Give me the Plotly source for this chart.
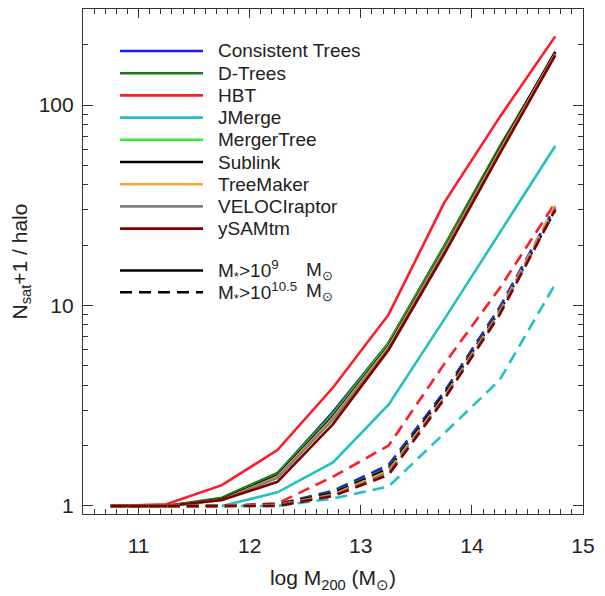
import plotly.graph_objects as go

# ---------------- data ----------------
log_m200 = [10.75, 11.25, 11.75, 12.25, 12.75, 13.25, 13.75, 14.25, 14.75]

tree_names = ["Consistent Trees", "D-Trees", "HBT", "JMerge", "MergerTree",
              "Sublink", "TreeMaker", "VELOCIraptor", "ySAMtm"]
tree_colors = ["#1a1aff", "#1a7a1a", "#ff1a2a", "#22c0c0", "#33ee33",
               "#000000", "#ffa030", "#808080", "#800000"]

# N_sat+1 per halo, M* > 1e9 Msun (solid)
ct_9 = [1.0, 1.0, 1.09, 1.45, 2.95, 6.5, 19.5, 61, 182]
dt_9 = [1.0, 1.0, 1.10, 1.46, 2.90, 6.5, 19.8, 62, 180]
hbt_9 = [1.0, 1.02, 1.27, 1.90, 3.90, 9.0, 32.5, 87, 220]
jm_9 = [None, None, 1.0, 1.17, 1.65, 3.2, 8.5, 23, 62.5]
mt_9 = [1.0, 1.0, 1.08, 1.43, 2.85, 6.4, 19.2, 60, 181]
sl_9 = [1.0, 1.0, 1.08, 1.42, 2.80, 6.3, 19.0, 60, 184]
tm_9 = [1.0, 1.0, 1.07, 1.40, 2.75, 6.2, 18.8, 59, 180]
vr_9 = [1.0, 1.0, 1.07, 1.38, 2.70, 6.1, 18.5, 58, 178]
ys_9 = [1.0, 1.0, 1.07, 1.32, 2.56, 6.0, 18.0, 57, 177]

# N_sat+1 per halo, M* > 10^10.5 Msun (dashed)
ct_105 = [1.0, 1.0, 1.0, 1.02, 1.19, 1.60, 3.7, 9.8, 31]
dt_105 = [1.0, 1.0, 1.0, 1.02, 1.17, 1.55, 3.6, 9.5, 30]
hbt_105 = [1.0, 1.0, 1.0, 1.03, 1.40, 2.00, 5.1, 12.2, 32.5]
jm_105 = [None, None, 1.0, 1.0, 1.09, 1.25, 2.3, 4.25, 12.8]
mt_105 = [1.0, 1.0, 1.0, 1.02, 1.16, 1.53, 3.6, 9.4, 30]
sl_105 = [1.0, 1.0, 1.0, 1.02, 1.16, 1.53, 3.6, 9.4, 30]
tm_105 = [1.0, 1.0, 1.0, 1.01, 1.14, 1.50, 3.5, 9.3, 31.5]
vr_105 = [1.0, 1.0, 1.0, 1.01, 1.13, 1.47, 3.45, 9.2, 30.5]
ys_105 = [1.0, 1.0, 1.0, 1.00, 1.12, 1.43, 3.4, 9.0, 30]

solid_series = [ct_9, dt_9, hbt_9, jm_9, mt_9, sl_9, tm_9, vr_9, ys_9]
dashed_series = [ct_105, dt_105, hbt_105, jm_105, mt_105, sl_105, tm_105, vr_105, ys_105]

x_ticks = [11, 12, 13, 14, 15]
y_ticks = [1, 10, 100]
y_tick_labels = ["1", "10", "100"]

# ---------------- layout geometry ----------------
# page has an 8px body margin, so the figure is offset by (8, 8)
OFF = 8
W, H = 597, 588
L, R, T, B = 75, 22, 1, 82
PW, PH = W - L - R, H - T - B

def px2paper(px, py):
    """page pixel -> paper coords"""
    fx, fy = px - OFF, py - OFF
    return (fx - L) / PW, (H - B - fy) / PH

FONT = "Liberation Sans, Arial, Helvetica, sans-serif"
AXC = "#333333"
TXT = "#222222"

fig = go.Figure()

for name, col, ys in zip(tree_names, tree_colors, solid_series):
    fig.add_trace(go.Scatter(x=log_m200, y=ys, mode="lines", name=name,
                             line=dict(color=col, width=2.6), showlegend=False))
for name, col, ys in zip(tree_names, tree_colors, dashed_series):
    fig.add_trace(go.Scatter(x=log_m200, y=ys, mode="lines", name=name,
                             line=dict(color=col, width=2.6, dash="12px,7px"),
                             showlegend=False))

# ---------------- manual legend ----------------
shapes = []
annotations = []
row0, dy = 51, 22.2
for i, (name, col) in enumerate(zip(tree_names, tree_colors)):
    py = row0 + i * dy
    x0, y0 = px2paper(120, py)
    x1, _ = px2paper(203, py)
    shapes.append(dict(type="line", xref="paper", yref="paper", x0=x0, x1=x1,
                       y0=y0, y1=y0, line=dict(color=col, width=2.6)))
    tx, ty = px2paper(216, py)
    annotations.append(dict(xref="paper", yref="paper", x=tx, y=ty, text=name,
                            showarrow=False, xanchor="left", yanchor="middle",
                            font=dict(family=FONT, size=19, color=TXT)))

for py, dash, lab in [(270.5, "solid", "M<sub>*</sub>>10<sup>9</sup>"),
                      (292.3, "12px,7px", "M<sub>*</sub>>10<sup>10.5</sup>")]:
    x0, y0 = px2paper(120, py)
    x1, _ = px2paper(203, py)
    shapes.append(dict(type="line", xref="paper", yref="paper", x0=x0, x1=x1,
                       y0=y0, y1=y0, line=dict(color="black", width=2.6, dash=dash)))
    tx, ty = px2paper(216, py)
    annotations.append(dict(xref="paper", yref="paper", x=tx, y=ty, text=lab,
                            showarrow=False, xanchor="left", yanchor="middle",
                            font=dict(family=FONT, size=19, color=TXT)))
    tx2, _ = px2paper(304, py)
    annotations.append(dict(xref="paper", yref="paper", x=tx2, y=ty, text="M<sub>⊙</sub>",
                            showarrow=False, xanchor="left", yanchor="middle",
                            font=dict(family=FONT, size=19, color=TXT)))

minor_y = [v * m for m in (1, 10, 100) for v in range(2, 10)]

fig.update_layout(
    width=W, height=H,
    margin=dict(l=L, r=R, t=T, b=B, autoexpand=False),
    paper_bgcolor="white", plot_bgcolor="white",
    font=dict(family=FONT, size=20, color=TXT),
    shapes=shapes, annotations=annotations,
    showlegend=False,
    xaxis=dict(
        range=[10.5, 15], tickmode="array", tickvals=x_ticks,
        ticktext=[str(v) for v in x_ticks],
        ticks="inside", ticklen=9, tickwidth=1, tickcolor=AXC,
        ticklabelstandoff=13,
        showline=True, linecolor=AXC, linewidth=1.2, mirror="allticks",
        showgrid=False, zeroline=False,
        tickfont=dict(size=21, family=FONT, color=TXT),
        minor=dict(dtick=0.1, tick0=10.5, ticks="inside", ticklen=4.5,
                   tickcolor=AXC, showgrid=False),
        title=dict(text="log M<sub>200</sub> (M<sub>⊙</sub>)", standoff=14,
                   font=dict(size=21, family=FONT, color=TXT)),
    ),
    yaxis=dict(
        type="log", range=[-0.04, 2.479], tickmode="array",
        tickvals=y_ticks, ticktext=y_tick_labels,
        ticks="inside", ticklen=10, tickwidth=1, tickcolor=AXC,
        ticklabelstandoff=4,
        showline=True, linecolor=AXC, linewidth=1.2, mirror="allticks",
        showgrid=False, zeroline=False,
        tickfont=dict(size=21, family=FONT, color=TXT),
        minor=dict(tickmode="array", tickvals=minor_y, ticks="inside",
                   ticklen=5, tickcolor=AXC, showgrid=False),
        title=dict(text="N<sub>sat</sub>+1 / halo", standoff=10,
                   font=dict(size=21, family=FONT, color=TXT)),
    ),
)

fig.write_html("out.html")
